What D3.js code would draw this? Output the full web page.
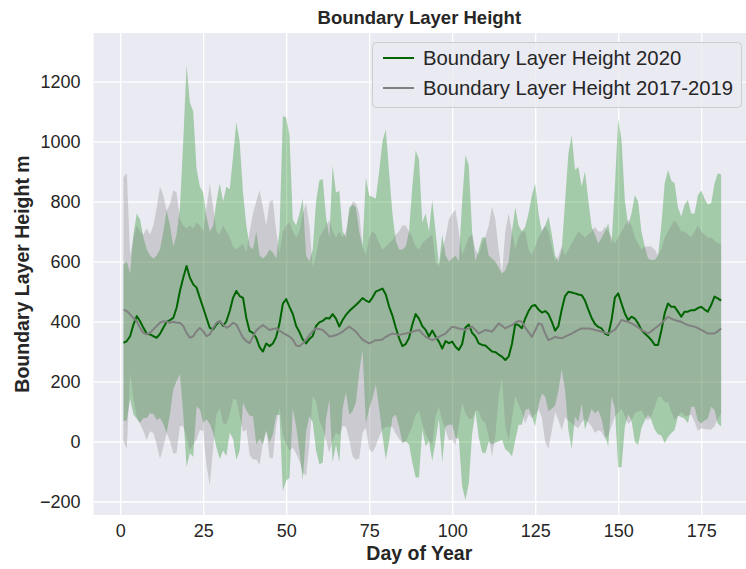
<!DOCTYPE html>
<html>
<head>
<meta charset="utf-8">
<script src="https://cdn.jsdelivr.net/npm/d3@7"></script>
<style>
  html, body { margin: 0; padding: 0; background: #ffffff; }
  svg { display: block; font-family: "Liberation Sans", Arial, sans-serif; }
</style>
</head>
<body>
<svg id="chart" width="746" height="569"></svg>
<script>
// Day of year, 1 to 181
const days = d3.range(1, 182);

// 2020 daily mean boundary layer height (m)
const blh2020Mean = [
  329,335,351,390,418,401,379,359,357,351, 346,359,379,399,405,412,446,502,546,585,
  546,524,513,479,446,412,379,374,390,401, 385,401,435,479,502,485,479,412,368,362,
  345,315,300,327,318,327,349,394,460,475, 449,425,385,365,340,327,342,352,385,397,
  402,412,410,425,410,383,405,422,435,445, 455,466,478,470,465,480,500,505,510,490,
  450,420,380,345,318,325,345,390,425,410, 385,372,350,370,350,333,310,335,328,333,
  316,305,325,380,390,362,350,327,322,320, 310,300,298,290,283,272,283,325,392,388,
  378,410,435,452,455,440,430,435,425,400, 370,385,440,485,499,497,494,490,488,470,
  440,412,392,382,377,360,355,405,480,494, 460,427,405,416,410,394,372,360,350,338,
  322,322,370,427,460,449,449,433,416,433, 433,438,438,445,449,440,433,455,483,477,
  470
];
// 2020 daily standard deviation (m)
const blh2020Sd = [
  261,265,209,300,342,339,301,281,263,259, 274,281,321,371,315,238,244,278,454,670,
  584,576,397,371,384,338,321,346,410,459, 415,449,405,471,563,515,351,308,282,278,
  355,305,310,293,322,303,261,306,625,605, 571,315,335,395,470,293,258,288,415,473,
  473,338,270,495,420,452,295,258,345,345, 325,234,172,410,355,335,310,395,490,550,
  450,340,290,295,322,325,355,460,545,530, 345,388,350,435,350,257,380,285,272,277,
  304,295,475,575,530,338,250,313,358,360, 310,310,302,290,277,298,317,375,388,332,
  322,306,325,368,405,320,270,285,325,290, 250,215,200,315,461,523,411,425,362,430,
  365,304,298,278,303,340,372,255,370,581, 545,378,315,344,411,406,328,290,260,267,
  283,298,350,433,445,421,411,347,334,357, 372,322,322,375,389,370,357,339,377,417,
  420
];
// 2017-2019 daily mean boundary layer height (m)
const blh1719Mean = [
  440,435,424,412,401,379,362,357,362,374, 385,396,401,399,396,399,396,396,385,362,
  346,351,368,379,368,351,357,379,396,401, 390,379,385,396,390,368,346,335,328,350,
  370,380,388,380,372,375,377,370,362,356, 350,340,320,318,328,340,355,368,377,375,
  372,362,350,352,355,360,366,375,383,375, 366,352,340,333,327,332,338,338,340,349,
  355,360,358,355,358,360,363,366,369,372, 360,349,343,338,343,349,355,360,372,383,
  380,377,375,372,378,383,372,360,366,372, 369,366,380,394,386,377,383,388,396,402,
  399,380,365,349,370,394,390,360,338,343, 349,346,344,350,355,360,366,372,377,377,
  377,375,372,369,366,363,360,366,372,388, 405,402,399,394,388,380,372,366,360,368,
  377,385,394,405,416,410,405,402,399,393, 388,385,383,378,372,366,360,360,360,368,
  377
];
// 2017-2019 daily standard deviation (m)
const blh1719Sd = [
  440,460,196,268,319,321,328,353,328,346, 395,454,419,371,394,439,434,344,335,348,
  374,359,362,341,332,429,503,401,304,289, 330,321,295,254,250,282,314,295,372,410,
  430,458,392,340,428,430,323,257,338,364, 380,360,360,382,432,454,365,215,243,305,
  328,358,388,348,325,340,314,325,377,425, 428,408,310,287,353,368,352,322,300,301,
  305,312,332,345,362,360,337,314,281,268, 300,323,337,352,257,234,285,320,368,377,
  392,323,245,278,302,307,268,260,294,311, 351,417,360,246,174,323,378,312,244,278,
  301,320,275,271,280,286,310,360,362,307, 251,274,306,270,285,300,314,328,313,303,
  313,325,344,331,334,353,340,314,288,292, 295,318,341,326,292,280,268,284,290,282,
  263,235,246,275,284,310,333,318,301,307, 302,295,317,342,328,324,320,320,310,292,
  283
];

const xTicks = [0, 25, 50, 75, 100, 125, 150, 175];
const yTicks = [-200, 0, 200, 400, 600, 800, 1000, 1200];
const seriesNames = ["Boundary Layer Height 2020", "Boundary Layer Height 2017-2019"];

const svg = d3.select("#chart");
const W = 746, H = 569;
const plot = { left: 93.6, right: 751, top: 33, bottom: 515 };
const fontFamily = '"Liberation Sans", Arial, sans-serif';

svg.append("rect").attr("width", W).attr("height", H).attr("fill", "#ffffff");

const x = d3.scaleLinear().domain([-8, 190]).range([plot.left, plot.right]);
const y = d3.scaleLinear().domain([-245, 1362]).range([plot.bottom, plot.top]);

svg.append("defs").append("clipPath").attr("id", "plotClip")
  .append("rect")
  .attr("x", plot.left).attr("y", plot.top)
  .attr("width", plot.right - plot.left).attr("height", plot.bottom - plot.top);

// axes background
svg.append("rect")
  .attr("x", plot.left).attr("y", plot.top)
  .attr("width", plot.right - plot.left).attr("height", plot.bottom - plot.top)
  .attr("fill", "#eaeaf2");

// white grid
const grid = svg.append("g").attr("clip-path", "url(#plotClip)");
grid.append("g")
  .attr("transform", `translate(0,${plot.bottom})`)
  .call(d3.axisBottom(x).tickValues(xTicks).tickSize(-(plot.bottom - plot.top)).tickFormat(""))
  .call(g => g.select(".domain").remove())
  .call(g => g.selectAll("line").attr("stroke", "#ffffff").attr("stroke-width", 1.3));
grid.append("g")
  .attr("transform", `translate(${plot.left},0)`)
  .call(d3.axisLeft(y).tickValues(yTicks).tickSize(-(plot.right - plot.left)).tickFormat(""))
  .call(g => g.select(".domain").remove())
  .call(g => g.selectAll("line").attr("stroke", "#ffffff").attr("stroke-width", 1.3));

// mean ± sd bands and mean lines
const rows2020 = days.map((d, i) => ({ d, m: blh2020Mean[i], s: blh2020Sd[i] }));
const rows1719 = days.map((d, i) => ({ d, m: blh1719Mean[i], s: blh1719Sd[i] }));

const band = d3.area()
  .x(r => x(r.d))
  .y0(r => y(r.m - r.s))
  .y1(r => y(r.m + r.s));
const line = d3.line()
  .x(r => x(r.d))
  .y(r => y(r.m));

const marks = svg.append("g").attr("clip-path", "url(#plotClip)");
marks.append("path").datum(rows2020).attr("d", band)
  .attr("fill", "#008000").attr("fill-opacity", 0.3);
marks.append("path").datum(rows1719).attr("d", band)
  .attr("fill", "#808080").attr("fill-opacity", 0.3);
marks.append("path").datum(rows2020).attr("d", line)
  .attr("fill", "none").attr("stroke", "#006400").attr("stroke-width", 2)
  .attr("stroke-linejoin", "round");
marks.append("path").datum(rows1719).attr("d", line)
  .attr("fill", "none").attr("stroke", "#808080").attr("stroke-width", 2)
  .attr("stroke-linejoin", "round");

// tick labels
const textColor = "#262626";
const xAxis = svg.append("g")
  .attr("transform", `translate(0,${plot.bottom})`)
  .call(d3.axisBottom(x).tickValues(xTicks).tickSize(0).tickPadding(9).tickFormat(d3.format("d")));
xAxis.select(".domain").remove();
xAxis.selectAll("text").attr("fill", textColor).attr("font-size", 18)
  .attr("font-family", fontFamily);

const yAxis = svg.append("g")
  .attr("transform", `translate(${plot.left},0)`)
  .call(d3.axisLeft(y).tickValues(yTicks).tickSize(0).tickPadding(13).tickFormat(d3.format("d")));
yAxis.select(".domain").remove();
yAxis.selectAll("text").attr("fill", textColor).attr("font-size", 18)
  .attr("font-family", fontFamily)
  .text(d => d < 0 ? "\u2212" + Math.abs(d) : d);

// title and axis labels
const cx = (plot.left + 745) / 2;
svg.append("text").attr("x", cx).attr("y", 24)
  .attr("text-anchor", "middle").attr("font-weight", "bold").attr("font-size", 18.5)
  .attr("fill", textColor).text("Boundary Layer Height");
svg.append("text").attr("x", cx).attr("y", 560)
  .attr("text-anchor", "middle").attr("font-weight", "bold").attr("font-size", 19.5)
  .attr("fill", textColor).text("Day of Year");
svg.append("text")
  .attr("transform", `translate(29,${(plot.top + plot.bottom) / 2}) rotate(-90)`)
  .attr("text-anchor", "middle").attr("font-weight", "bold").attr("font-size", 19.5)
  .attr("fill", textColor).text("Boundary Layer Height m");

// legend
const legend = svg.append("g");
legend.append("rect")
  .attr("x", 372.5).attr("y", 42.5).attr("width", 369).attr("height", 65).attr("rx", 4)
  .attr("fill", "#eaeaf2").attr("fill-opacity", 0.8)
  .attr("stroke", "#cccccc").attr("stroke-width", 1);
const legendColors = ["#006400", "#808080"];
seriesNames.forEach((name, i) => {
  const ly = 58 + i * 30;
  legend.append("line")
    .attr("x1", 383).attr("x2", 414).attr("y1", ly).attr("y2", ly)
    .attr("stroke", legendColors[i]).attr("stroke-width", 2);
  legend.append("text")
    .attr("x", 423).attr("y", ly + 6.5)
    .attr("font-size", 20.3).attr("fill", textColor).text(name);
});
</script>
</body>
</html>
